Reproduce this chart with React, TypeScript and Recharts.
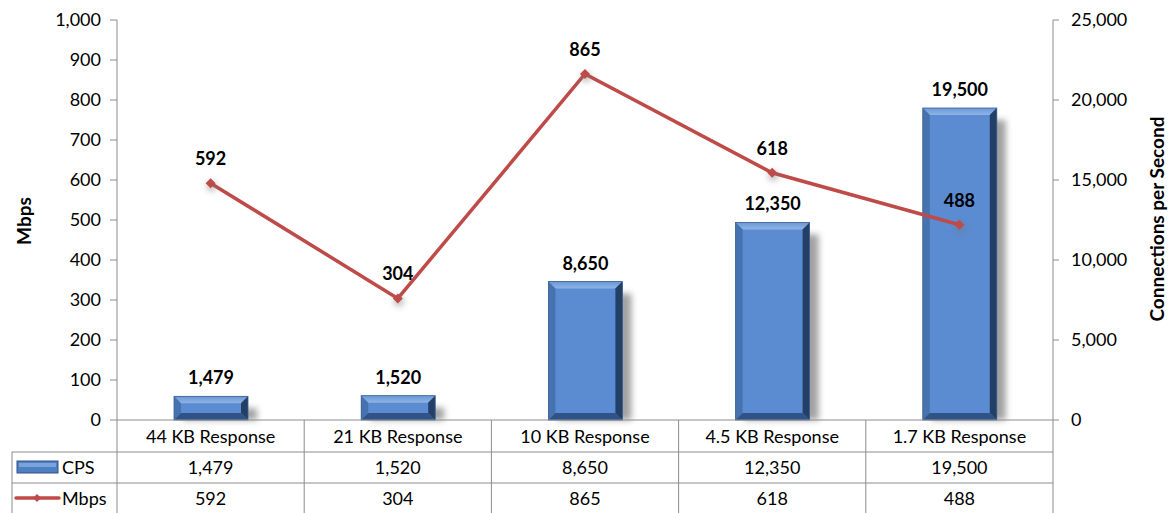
import { ComposedChart, Bar, Line, XAxis, YAxis, LabelList } from "recharts"

const CATEGORIES = ["44 KB Response", "21 KB Response", "10 KB Response", "4.5 KB Response", "1.7 KB Response"]
const CPS = [1479, 1520, 8650, 12350, 19500]
const MBPS = [592, 304, 865, 618, 488]
const MBPS_TICKS = [0, 100, 200, 300, 400, 500, 600, 700, 800, 900, 1000]
const CPS_TICKS = [0, 5000, 10000, 15000, 20000, 25000]

const W = 1169
const H = 513
const LEFT = 117
const RIGHT = 1053
const TOP = 20
const BOTTOM = 420
const ROW1 = 452
const ROW2 = 483
const COL_W = (RIGHT - LEFT) / CATEGORIES.length

const FONT = "Lato, 'Open Sans', sans-serif"
const GRID = "#8c8c8c"
const RED = "#be4b48"

const fmt = (v: number) => v.toLocaleString("en-US")

const data = CATEGORIES.map((name, i) => ({ name, cps: CPS[i], mbps: MBPS[i] }))

function BevelBar(props: any) {
  const { x, y, width: w, height: h } = props
  if (!h || h <= 0) return null
  const b = Math.min(7, h / 3)
  return (
    <g>
      <rect x={x + 9} y={y + 12} width={w} height={Math.max(0, h - 12)} fill="#555" opacity={0.55} filter="url(#shadowBlur)" />
      <rect x={x} y={y} width={w} height={h} fill="#5b8bd0" />
      <polygon points={`${x},${y} ${x + w},${y} ${x + w - b},${y + b} ${x + b},${y + b}`} fill="url(#topBevel)" />
      <polygon points={`${x},${y} ${x + b},${y + b} ${x + b},${y + h - b} ${x},${y + h}`} fill="#4673b0" />
      <polygon points={`${x + w},${y} ${x + w},${y + h} ${x + w - b},${y + h - b} ${x + w - b},${y + b}`} fill="#233f66" />
      <polygon points={`${x},${y + h} ${x + w},${y + h} ${x + w - b},${y + h - b} ${x + b},${y + h - b}`} fill="#2f5287" />
      <rect x={x} y={y} width={w} height={h} fill="none" stroke="#3b5f90" strokeWidth={0.8} />
    </g>
  )
}

function Diamond(props: any) {
  const { cx, cy } = props
  if (cx == null || cy == null) return null
  const r = 5
  return (
    <g>
      <circle cx={cx + 1} cy={cy + 3} r={5} fill="#777" opacity={0.5} filter="url(#shadowBlur)" />
      <polygon points={`${cx},${cy - r} ${cx + r},${cy} ${cx},${cy + r} ${cx - r},${cy}`} fill={RED} />
    </g>
  )
}

function TableColumn(props: any) {
  const { x, payload } = props
  const i = payload.index
  const left = x - COL_W / 2
  const textStyle = { fontFamily: FONT, fontSize: 18, fill: "#000" }
  return (
    <g>
      <line x1={left} y1={BOTTOM} x2={left} y2={H} stroke={GRID} />
      {i === CATEGORIES.length - 1 && <line x1={left + COL_W} y1={BOTTOM} x2={left + COL_W} y2={H} stroke={GRID} />}
      <text x={x} y={443} textAnchor="middle" {...textStyle}>{CATEGORIES[i]}</text>
      <text x={x} y={474} textAnchor="middle" {...textStyle}>{fmt(CPS[i])}</text>
      <text x={x} y={505} textAnchor="middle" {...textStyle}>{fmt(MBPS[i])}</text>
    </g>
  )
}

export default function App() {
  const tick = { fontFamily: FONT, fontSize: 18, fill: "#000" }
  const labelStyle = { fontFamily: FONT, fontSize: 18, fontWeight: 700, fill: "#000" }
  return (
    <div style={{ position: "absolute", left: 0, top: 0, width: W, height: H, background: "#fff" }}>
      <ComposedChart width={W} height={H} data={data} margin={{ top: TOP, right: 0, bottom: 0, left: 0 }}>
        <defs>
          <filter id="shadowBlur" x="-50%" y="-50%" width="200%" height="200%">
            <feGaussianBlur stdDeviation="3" />
          </filter>
          <linearGradient id="topBevel" x1="0" y1="0" x2="0" y2="1">
            <stop offset="0%" stopColor="#6a98d6" />
            <stop offset="100%" stopColor="#8fb4e6" />
          </linearGradient>
        </defs>
        <XAxis
          dataKey="name"
          height={H - BOTTOM}
          axisLine={{ stroke: GRID }}
          tickLine={false}
          interval={0}
          tick={<TableColumn />}
        />
        <YAxis
          yAxisId="left"
          width={LEFT}
          domain={[0, 1000]}
          ticks={MBPS_TICKS}
          tickFormatter={fmt}
          axisLine={{ stroke: GRID }}
          tickLine={{ stroke: GRID }}
          tickSize={7}
          tickMargin={9}
          tick={tick}
        />
        <YAxis
          yAxisId="right"
          orientation="right"
          width={W - RIGHT}
          domain={[0, 25000]}
          ticks={CPS_TICKS}
          tickFormatter={fmt}
          axisLine={{ stroke: GRID }}
          tickLine={{ stroke: GRID }}
          tickSize={6}
          tickMargin={12}
          tick={tick}
        />
        <Bar yAxisId="right" dataKey="cps" barSize={74} shape={<BevelBar />} isAnimationActive={false}>
          <LabelList dataKey="cps" position="top" offset={12} formatter={(v: any) => fmt(Number(v))} style={labelStyle} />
        </Bar>
        <Line
          yAxisId="left"
          dataKey="mbps"
          stroke={RED}
          strokeWidth={3.5}
          dot={<Diamond />}
          activeDot={false}
          isAnimationActive={false}
        >
          <LabelList dataKey="mbps" position="top" offset={18} style={labelStyle} />
        </Line>
      </ComposedChart>
      <svg width={W} height={H} style={{ position: "absolute", left: 0, top: 0, pointerEvents: "none" }}>
        <text x={0} y={0} transform="translate(31 221) rotate(-90)" textAnchor="middle" fontFamily={FONT} fontSize={19} fontWeight={700}>Mbps</text>
        <text x={0} y={0} transform="translate(1164 219) rotate(-90)" textAnchor="middle" fontFamily={FONT} fontSize={19} fontWeight={700}>Connections per Second</text>
        <line x1={12} y1={ROW1} x2={RIGHT} y2={ROW1} stroke={GRID} />
        <line x1={12} y1={ROW2} x2={RIGHT} y2={ROW2} stroke={GRID} />
        <line x1={12} y1={ROW1} x2={12} y2={H} stroke={GRID} />
        <rect x={17} y={461} width={41} height={12} fill="#4e7fc0" stroke="#2f5287" />
        <rect x={19} y={463} width={37} height={4} fill="#7aa3dc" />
        <text x={62} y={474} fontFamily={FONT} fontSize={18}>CPS</text>
        <line x1={16} y1={498} x2={59} y2={498} stroke={RED} strokeWidth={3.5} strokeLinecap="round" />
        <polygon points="37,494 41,498 37,502 33,498" fill={RED} />
        <text x={62} y={505} fontFamily={FONT} fontSize={18}>Mbps</text>
      </svg>
    </div>
  )
}
